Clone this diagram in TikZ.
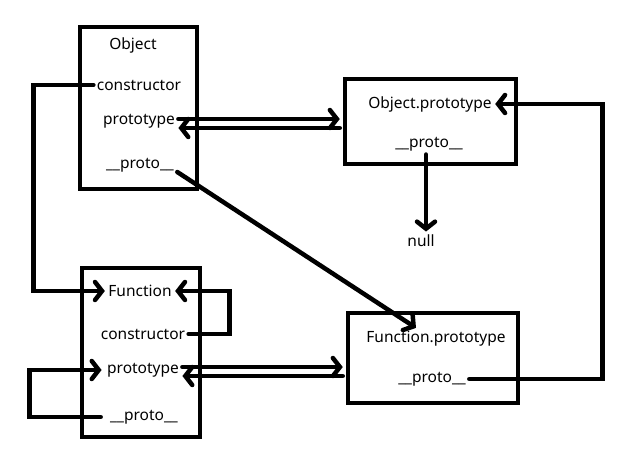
\documentclass[tikz,border=0pt]{standalone}
\usepackage{fontspec}
\setmainfont{Noto Sans}
\usetikzlibrary{arrows.meta,positioning}
\tikzset{
  frame/.style={draw,line width=4.5pt,rectangle,inner sep=0pt},
  field/.style={font=\fontsize{15.5}{17}\selectfont},
  link/.style={line width=4.5pt,line cap=round,-{Straight Barb[length=7pt,width=18pt,line cap=round]}},
}

\begin{document}
\begin{tikzpicture}[x=1pt,y=-1pt]
  \useasboundingbox (0,0) rectangle (643,467);
  % boxes
  \node[frame,minimum width=117pt,minimum height=162pt] (obox) at (138.5,108) {};
  \node[frame,minimum width=171pt,minimum height=85pt] (opbox) at (430.5,121.5) {};
  \node[frame,minimum width=118pt,minimum height=169pt] (fbox) at (141,352.5) {};
  \node[frame,minimum width=170pt,minimum height=90pt] (fpbox) at (433,358) {};
  % fields
  \node[field] (oname) at (133,45) {Object};
  \node[field] (octor) at (139,85) {constructor};
  \node[field] (oproto) at (139,121) {prototype};
  \node[field] (ounder) at (140,165) {\_\_proto\_\_};
  \node[field] (opname) at (430,104) {Object.prototype};
  \node[field] (opunder) at (429,144) {\_\_proto\_\_};
  \node[field] (null) at (421,241) {null};
  \node[field] (fname) at (140,291) {Function};
  \node[field] (fctor) at (143,334) {constructor};
  \node[field] (fproto) at (143,370) {prototype};
  \node[field] (funder) at (144,417) {\_\_proto\_\_};
  \node[field] (fpname) at (436,339) {Function.prototype};
  \node[field] (fpunder) at (432,379) {\_\_proto\_\_};
  % links
  \draw[link] (octor.west) -- ++(-60,0) |- (fname.west);
  \draw[link] (fctor.east) -- ++(41,0) |- (fname.east);
  \draw[link] ([xshift=-6pt]funder.west) -- ++(-71,0) |- ([xshift=-2pt]fproto.west);
  \draw[link,shorten >=3pt] ([yshift=2pt]oproto.east) -- ([yshift=2pt]oproto.east -| opbox.west);
  \draw[link,shorten <=3pt] ([yshift=-7pt]oproto.east -| opbox.west) -- ([yshift=-7pt]oproto.east);
  \draw[link,shorten >=3pt] ([yshift=3pt]fproto.east) -- ([yshift=3pt]fproto.east -| fpbox.west);
  \draw[link,shorten <=3pt] ([yshift=-6pt]fproto.east -| fpbox.west) -- ([yshift=-6pt]fproto.east);
  \draw[link] ([yshift=-7pt]ounder.east) -- ([xshift=-20pt]fpname.north);
  \draw[link] (fpunder.east) -- ++(133,0) |- (opname.east);
  \draw[link] ([xshift=-3pt]opunder.south) -- ([xshift=-3pt]opunder.south |- null.north);
\end{tikzpicture}
\end{document}
